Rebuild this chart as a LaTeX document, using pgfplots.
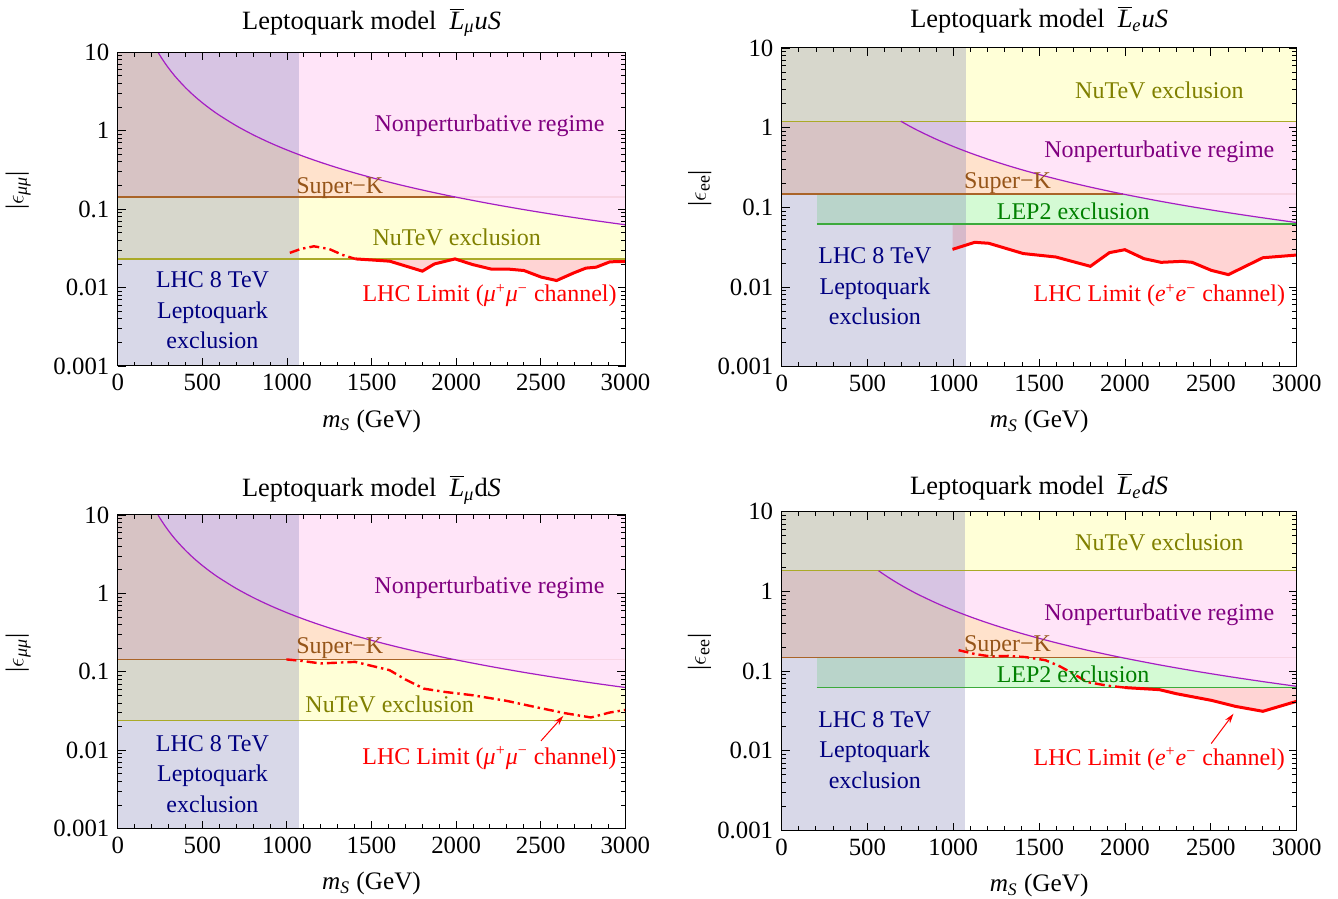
\documentclass[border=0pt]{standalone}
\usepackage{fontspec}
\setmainfont{Liberation Serif}
\usepackage{pgfplots}
\pgfplotsset{compat=1.18}
\usetikzlibrary{arrows.meta}
\definecolor{nuY}{RGB}{255,255,215}
\definecolor{skP}{RGB}{255,226,204}
\definecolor{npP}{RGB}{255,228,248}
\definecolor{lepG}{RGB}{212,250,212}
\definecolor{lhR}{RGB}{255,212,212}
\definecolor{lqB}{RGB}{125,125,180}
\definecolor{npL}{RGB}{165,30,195}
\definecolor{skL}{RGB}{170,100,40}
\definecolor{skF}{RGB}{248,212,228}
\definecolor{nuL}{RGB}{170,170,40}
\definecolor{lepL}{RGB}{60,170,60}
\definecolor{npT}{RGB}{128,0,128}
\definecolor{skT}{RGB}{150,85,25}
\definecolor{nuT}{RGB}{128,128,0}
\definecolor{lepT}{RGB}{0,128,0}
\definecolor{lqT}{RGB}{0,0,128}
\definecolor{lhL}{RGB}{255,0,0}
\pgfplotsset{
  lqpanel/.style={
    scale only axis, anchor=south west,
    xmin=0, xmax=3000, ymin=0.001, ymax=10,
    xtick={0,500,1000,1500,2000,2500,3000}, minor x tick num=4,
    ytick={0.001,0.01,0.1,1,10}, yticklabels={0.001,0.01,0.1,1,10},
    minor ytick={0.002,0.003,0.004,0.005,0.006,0.007,0.008,0.009,
      0.02,0.03,0.04,0.05,0.06,0.07,0.08,0.09,
      0.2,0.3,0.4,0.5,0.6,0.7,0.8,0.9,2,3,4,5,6,7,8,9},
    axis on top, clip mode=individual,
    axis line style={black, line width=0.5pt},
    tick style={black, line width=0.45pt},
    major tick length=4pt, minor tick length=2.2pt,
    tick label style={font=\fontsize{12.4}{14}\selectfont},
    /pgf/number format/assume math mode=true,
    /pgf/number format/1000 sep={},
    xlabel={{\itshape m}\textsubscript{\itshape S} (GeV)},
    xlabel style={at={(axis description cs:0.5,0)}, anchor=center, yshift=-27.5pt, font=\fontsize{12.6}{15}\selectfont},
    title style={at={(axis description cs:0.5,1)}, anchor=center, font=\fontsize{13.2}{15}\selectfont},
    ylabel style={anchor=center, rotate=0, font=\fontsize{12.8}{15}\selectfont},
  },
}
\tikzset{
  dd/.style={lhL, line width=1.2pt, dash pattern=on 5pt off 2pt on 1.2pt off 2pt},
  sl/.style={lhL, line width=1.5pt},
}
\begin{document}
\fontsize{12}{15.25}\selectfont
\begin{tikzpicture}[font=\fontsize{12}{15.25}\selectfont]
\useasboundingbox (0,0) rectangle (669pt,449.5pt);

% ---------------- Top left ----------------
\begin{axis}[ymode=log, lqpanel, at={(58.85pt,266.5pt)}, width=253.9pt, height=156.85pt,
  title={Leptoquark model\ \ $\overline{\mbox{\itshape L}}$\textsubscript{\itshape μ}\textit{uS}},
  title style={yshift=9pt},
  ylabel={|$\epsilon$\textsubscript{\itshape μμ}|},
  ylabel style={at={(axis description cs:-0.196,0.56)}}]
\addplot[draw=none, fill=nuY] coordinates {(0,0.0232) (3000,0.0232) (3000,10) (0,10)} -- cycle;
\addplot[draw=none, fill=skP] coordinates {(0,0.143) (3000,0.143) (3000,10) (0,10)} -- cycle;
\addplot[draw=none, fill=npP] coordinates {(238.3,10) (250,9.088) (275,7.511) (300,6.311) (325,5.377) (350,4.637) (400,3.55) (450,2.805) (500,2.272) (550,1.878) (600,1.578) (700,1.159) (800,0.8875) (900,0.7012) (1000,0.568) (1100,0.4694) (1200,0.3944) (1300,0.3361) (1400,0.2898) (1500,0.2524) (1600,0.2219) (1700,0.1965) (1800,0.1753) (1900,0.1573) (2000,0.142) (2200,0.1174) (2400,0.0986) (2600,0.084) (2800,0.0724) (3000,0.0631) (3000,10)} -- cycle;
\addplot[draw=none, fill=lhR] coordinates {(1404,0.0232) (1500,0.0225) (1607,0.0217) (1800,0.0162) (1871,0.020) (1993,0.0232) (2095,0.0197) (2207,0.0172) (2308,0.0172) (2400,0.0165) (2502,0.0136) (2593,0.0123) (2695,0.0154) (2766,0.0177) (2827,0.0182) (2908,0.0213) (3000,0.0215) (3000,0.0232)} -- cycle;
\addplot[draw=none, fill=lqB, fill opacity=0.3] coordinates {(0,0.001) (1072,0.001) (1072,10) (0,10)} -- cycle;
\addplot[nuL, line width=0.6pt] coordinates {(0,0.0232) (3000,0.0232)};
\addplot[skL, line width=0.6pt] coordinates {(0,0.143) (1993,0.143)};
\addplot[skF, line width=0.6pt] coordinates {(1993,0.143) (3000,0.143)};
\addplot[npL, line width=0.6pt, smooth] coordinates {(238.3,10) (250,9.088) (275,7.511) (300,6.311) (325,5.377) (350,4.637) (400,3.55) (450,2.805) (500,2.272) (550,1.878) (600,1.578) (700,1.159) (800,0.8875) (900,0.7012) (1000,0.568) (1100,0.4694) (1200,0.3944) (1300,0.3361) (1400,0.2898) (1500,0.2524) (1600,0.2219) (1700,0.1965) (1800,0.1753) (1900,0.1573) (2000,0.142) (2200,0.1174) (2400,0.0986) (2600,0.084) (2800,0.0724) (3000,0.0631)};
\addplot[dd] coordinates {(1017,0.0277) (1080,0.031) (1159,0.0336) (1250,0.031) (1330,0.026) (1404,0.0232)};
\addplot[sl] coordinates {(1404,0.0232) (1500,0.0225) (1607,0.0217) (1800,0.0162) (1871,0.020) (1993,0.0232) (2095,0.0197) (2207,0.0172) (2308,0.0172) (2400,0.0165) (2502,0.0136) (2593,0.0123) (2695,0.0154) (2766,0.0177) (2827,0.0182) (2908,0.0213) (3000,0.0215)};
\node[text=npT] at (axis cs:2197,1.16) {Nonperturbative regime};
\node[text=skT] at (axis cs:1312,0.188) {Super−K};
\node[text=nuT] at (axis cs:2003,0.0436) {NuTeV exclusion};
\node[text=lqT, align=center] at (axis cs:560,0.0051) {LHC 8 TeV\\Leptoquark\\exclusion};
\node[text=lhL] at (axis cs:2197,0.0079) {LHC Limit (\textit{μ}\textsuperscript{+}\textit{μ}\textsuperscript{−} channel)};
\end{axis}

% ---------------- Top right ----------------
\begin{axis}[ymode=log, lqpanel, at={(390.85pt,266.15pt)}, width=257.5pt, height=159.35pt,
  title={Leptoquark model\ \ $\overline{\mbox{\itshape L}}$\textsubscript{\itshape e}\textit{uS}},
  title style={yshift=8pt},
  ylabel={|$\epsilon$\textsubscript{ee}|},
  ylabel style={at={(axis description cs:-0.159,0.56)}}]
\addplot[draw=none, fill=lepG] coordinates {(205,0.0619) (3000,0.0619) (3000,10) (205,10)} -- cycle;
\addplot[draw=none, fill=skP] coordinates {(0,0.1466) (3000,0.1466) (3000,10) (0,10)} -- cycle;
\addplot[draw=none, fill=npP] coordinates {(693.8,1.205) (700,1.184) (750,1.031) (800,0.906) (900,0.716) (1000,0.58) (1100,0.4793) (1200,0.4028) (1300,0.3432) (1400,0.2959) (1500,0.2578) (1600,0.2266) (1700,0.2007) (1800,0.179) (1900,0.1607) (2000,0.145) (2200,0.1198) (2400,0.1007) (2600,0.0858) (2800,0.074) (3000,0.0644) (3000,10) (693.8,10)} -- cycle;
\addplot[draw=none, fill=lhR] coordinates {(995,0.0619) (995,0.0297) (1125,0.0364) (1206,0.0354) (1407,0.0263) (1597,0.0238) (1798,0.0182) (1909,0.027) (1999,0.0294) (2110,0.0227) (2210,0.0204) (2331,0.021) (2391,0.0204) (2502,0.0162) (2602,0.0143) (2803,0.0233) (3000,0.0252) (3000,0.0619)} -- cycle;
\addplot[draw=none, fill=nuY] coordinates {(0,1.205) (3000,1.205) (3000,10) (0,10)} -- cycle;
\addplot[draw=none, fill=lqB, fill opacity=0.3] coordinates {(0,0.001) (1071,0.001) (1071,10) (0,10)} -- cycle;
\addplot[nuL, line width=0.6pt] coordinates {(0,1.205) (3000,1.205)};
\addplot[lepL, line width=0.6pt] coordinates {(205,0.0619) (3000,0.0619)};
\addplot[skL, line width=0.6pt] coordinates {(0,0.1466) (1989,0.1466)};
\addplot[skF, line width=0.6pt] coordinates {(1989,0.1466) (3000,0.1466)};
\addplot[npL, line width=0.6pt, smooth] coordinates {(693.8,1.205) (700,1.184) (750,1.031) (800,0.906) (900,0.716) (1000,0.58) (1100,0.4793) (1200,0.4028) (1300,0.3432) (1400,0.2959) (1500,0.2578) (1600,0.2266) (1700,0.2007) (1800,0.179) (1900,0.1607) (2000,0.145) (2200,0.1198) (2400,0.1007) (2600,0.0858) (2800,0.074) (3000,0.0644)};
\addplot[sl] coordinates {(995,0.0297) (1125,0.0364) (1206,0.0354) (1407,0.0263) (1597,0.0238) (1798,0.0182) (1909,0.027) (1999,0.0294) (2110,0.0227) (2210,0.0204) (2331,0.021) (2391,0.0204) (2502,0.0162) (2602,0.0143) (2803,0.0233) (3000,0.0252)};
\node[text=nuT] at (axis cs:2200,2.98) {NuTeV exclusion};
\node[text=npT] at (axis cs:2200,0.5) {Nonperturbative regime};
\node[text=skT] at (axis cs:1316,0.204) {Super−K};
\node[text=lepT] at (axis cs:1698,0.0904) {LEP2 exclusion};
\node[text=lqT, align=center] at (axis cs:543,0.0102) {LHC 8 TeV\\Leptoquark\\exclusion};
\node[text=lhL] at (axis cs:2200,0.0078) {LHC Limit (\textit{e}\textsuperscript{+}\textit{e}\textsuperscript{−} channel)};
\end{axis}

% ---------------- Bottom left ----------------
\begin{axis}[ymode=log, lqpanel, at={(58.85pt,35.15pt)}, width=253.8pt, height=156.85pt,
  title={Leptoquark model\ \ $\overline{\mbox{\itshape L}}$\textsubscript{\itshape μ}d\textit{S}},
  title style={yshift=6.5pt},
  ylabel={|$\epsilon$\textsubscript{\itshape μμ}|},
  ylabel style={at={(axis description cs:-0.196,0.56)}}]
\addplot[draw=none, fill=nuY] coordinates {(0,0.0242) (3000,0.0242) (3000,10) (0,10)} -- cycle;
\addplot[draw=none, fill=skP] coordinates {(0,0.144) (3000,0.144) (3000,10) (0,10)} -- cycle;
\addplot[draw=none, fill=npP] coordinates {(238.3,10) (250,9.088) (275,7.511) (300,6.311) (325,5.377) (350,4.637) (400,3.55) (450,2.805) (500,2.272) (550,1.878) (600,1.578) (700,1.159) (800,0.8875) (900,0.7012) (1000,0.568) (1100,0.4694) (1200,0.3944) (1300,0.3361) (1400,0.2898) (1500,0.2524) (1600,0.2219) (1700,0.1965) (1800,0.1753) (1900,0.1573) (2000,0.142) (2200,0.1174) (2400,0.0986) (2600,0.084) (2800,0.0724) (3000,0.0631) (3000,10)} -- cycle;
\addplot[draw=none, fill=lqB, fill opacity=0.3] coordinates {(0,0.001) (1072,0.001) (1072,10) (0,10)} -- cycle;
\addplot[nuL, line width=0.6pt] coordinates {(0,0.0242) (3000,0.0242)};
\addplot[skL, line width=0.6pt] coordinates {(0,0.144) (1986,0.144)};
\addplot[skF, line width=0.6pt] coordinates {(1986,0.144) (3000,0.144)};
\addplot[npL, line width=0.6pt, smooth] coordinates {(238.3,10) (250,9.088) (275,7.511) (300,6.311) (325,5.377) (350,4.637) (400,3.55) (450,2.805) (500,2.272) (550,1.878) (600,1.578) (700,1.159) (800,0.8875) (900,0.7012) (1000,0.568) (1100,0.4694) (1200,0.3944) (1300,0.3361) (1400,0.2898) (1500,0.2524) (1600,0.2219) (1700,0.1965) (1800,0.1753) (1900,0.1573) (2000,0.142) (2200,0.1174) (2400,0.0986) (2600,0.084) (2800,0.0724) (3000,0.0631)};
\addplot[dd] coordinates {(997,0.144) (1078,0.1387) (1200,0.128) (1403,0.134) (1607,0.105) (1699,0.0803) (1810,0.061) (1932,0.0555) (2095,0.0504) (2298,0.0427) (2481,0.0351) (2644,0.0297) (2797,0.0262) (2908,0.0303) (3000,0.0327)};
\draw[lhL, line width=0.5pt, -{Stealth[length=5pt,width=3pt]}] (axis cs:2502,0.0132) -- (axis cs:2634,0.0275);
\node[text=npT] at (axis cs:2197,1.17) {Nonperturbative regime};
\node[text=skT] at (axis cs:1312,0.199) {Super−K};
\node[text=nuT] at (axis cs:1607,0.0386) {NuTeV exclusion};
\node[text=lqT, align=center] at (axis cs:560,0.0050) {LHC 8 TeV\\Leptoquark\\exclusion};
\node[text=lhL] at (axis cs:2197,0.0079) {LHC Limit (\textit{μ}\textsuperscript{+}\textit{μ}\textsuperscript{−} channel)};
\end{axis}

% ---------------- Bottom right ----------------
\begin{axis}[ymode=log, lqpanel, at={(390.75pt,34.25pt)}, width=257.6pt, height=159.4pt,
  title={Leptoquark model\ \ $\overline{\mbox{\itshape L}}$\textsubscript{\itshape e}\textit{dS}},
  title style={yshift=6.5pt},
  ylabel={|$\epsilon$\textsubscript{ee}|},
  ylabel style={at={(axis description cs:-0.159,0.56)}}]
\addplot[draw=none, fill=lepG] coordinates {(205,0.0621) (3000,0.0621) (3000,10) (205,10)} -- cycle;
\addplot[draw=none, fill=skP] coordinates {(0,0.149) (3000,0.149) (3000,10) (0,10)} -- cycle;
\addplot[draw=none, fill=npP] coordinates {(565.3,1.815) (600,1.611) (650,1.373) (700,1.184) (750,1.031) (800,0.906) (900,0.716) (1000,0.58) (1100,0.4793) (1200,0.4028) (1300,0.3432) (1400,0.2959) (1500,0.2578) (1600,0.2266) (1700,0.2007) (1800,0.179) (1900,0.1607) (2000,0.145) (2200,0.1198) (2400,0.1007) (2600,0.0858) (2800,0.074) (3000,0.0644) (3000,10) (565.3,10)} -- cycle;
\addplot[draw=none, fill=lhR] coordinates {(2000,0.0621) (2200,0.0585) (2300,0.052) (2502,0.043) (2643,0.0361) (2803,0.0313) (3000,0.0418) (3000,0.0621)} -- cycle;
\addplot[draw=none, fill=nuY] coordinates {(0,1.815) (3000,1.815) (3000,10) (0,10)} -- cycle;
\addplot[draw=none, fill=lqB, fill opacity=0.3] coordinates {(0,0.001) (1071,0.001) (1071,10) (0,10)} -- cycle;
\addplot[nuL, line width=0.6pt] coordinates {(0,1.815) (3000,1.815)};
\addplot[lepL, line width=0.6pt] coordinates {(205,0.0621) (3000,0.0621)};
\addplot[skL, line width=0.6pt] coordinates {(0,0.149) (1973,0.149)};
\addplot[skF, line width=0.6pt] coordinates {(1973,0.149) (3000,0.149)};
\addplot[npL, line width=0.6pt, smooth] coordinates {(565.3,1.815) (600,1.611) (650,1.373) (700,1.184) (750,1.031) (800,0.906) (900,0.716) (1000,0.58) (1100,0.4793) (1200,0.4028) (1300,0.3432) (1400,0.2959) (1500,0.2578) (1600,0.2266) (1700,0.2007) (1800,0.179) (1900,0.1607) (2000,0.145) (2200,0.1198) (2400,0.1007) (2600,0.0858) (2800,0.074) (3000,0.0644)};
\addplot[dd] coordinates {(1031,0.183) (1130,0.163) (1216,0.153) (1320,0.155) (1420,0.150) (1537,0.137) (1620,0.115) (1698,0.093) (1779,0.073) (1900,0.0655) (2000,0.0621)};
\addplot[sl] coordinates {(2000,0.0621) (2200,0.0585) (2300,0.052) (2502,0.043) (2643,0.0361) (2803,0.0313) (3000,0.0418)};
\draw[lhL, line width=0.5pt, -{Stealth[length=5pt,width=3pt]}] (axis cs:2502,0.0123) -- (axis cs:2632,0.0292);
\node[text=nuT] at (axis cs:2200,4.07) {NuTeV exclusion};
\node[text=npT] at (axis cs:2200,0.503) {Nonperturbative regime};
\node[text=skT] at (axis cs:1316,0.207) {Super−K};
\node[text=lepT] at (axis cs:1698,0.0912) {LEP2 exclusion};
\node[text=lqT, align=center] at (axis cs:543,0.0103) {LHC 8 TeV\\Leptoquark\\exclusion};
\node[text=lhL] at (axis cs:2200,0.0079) {LHC Limit (\textit{e}\textsuperscript{+}\textit{e}\textsuperscript{−} channel)};
\end{axis}
\end{tikzpicture}
\end{document}
